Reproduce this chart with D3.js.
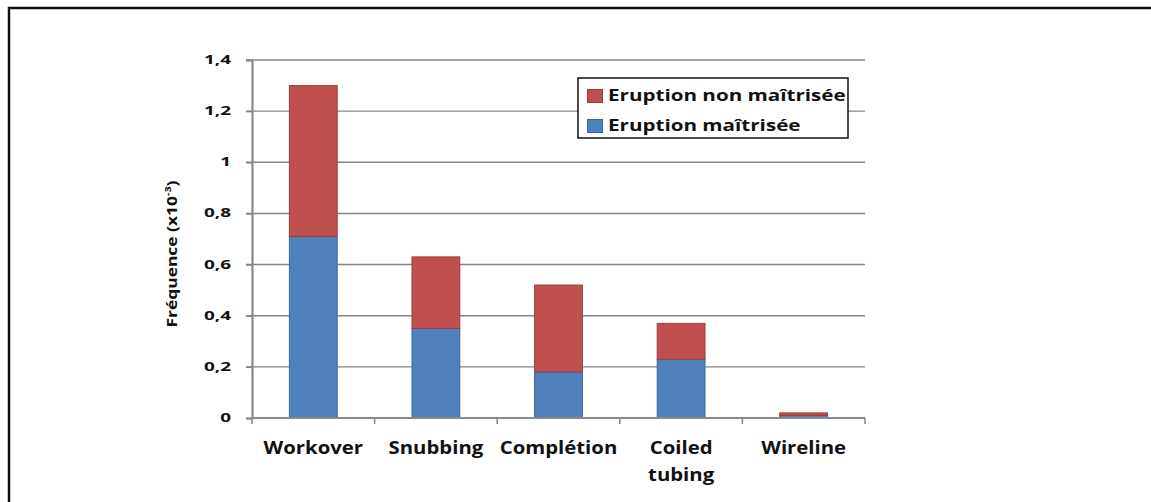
<!DOCTYPE html>
<html><head><meta charset="utf-8">
<script src="https://cdn.jsdelivr.net/npm/d3@7"></script>
<style>
body{margin:0;background:#fff;}
text{font-family:"Open Sans","DejaVu Sans",sans-serif;font-weight:bold;fill:#111;}
</style></head>
<body>
<svg id="c" width="1151" height="502"></svg>
<script>
const categories = ["Workover", "Snubbing", "Complétion", "Coiled\ntubing", "Wireline"];
const maitrisee = [0.71, 0.35, 0.18, 0.23, 0.01];
const nonMaitrisee = [0.59, 0.28, 0.34, 0.14, 0.01];
const yTicks = [0, 0.2, 0.4, 0.6, 0.8, 1, 1.2, 1.4];
const seriesNames = ["Eruption non maîtrisée", "Eruption maîtrisée"];
const colors = {fill:["#C0504D", "#4F81BD"], stroke:["#98403D", "#3A679C"]};

const svg = d3.select("#c");
// frame
svg.append("path").attr("d","M9,502 V8 H1151").attr("fill","none").attr("stroke","#111").attr("stroke-width",2.5);

const x0 = 252, x1 = 865, yb = 418, yt = 60;
const x = d3.scaleBand().domain(categories).range([x0, x1]).paddingInner(0.61).paddingOuter(0.305);
const y = d3.scaleLinear().domain([0, 1.4]).range([yb, yt]);

// stretched text helper (the reference is horizontally stretched)
function stext(parent, tx, ty, sx, size, anchor, str, rot){
  const g = parent.append("g").attr("transform", `translate(${tx},${ty})` + (rot?` rotate(${rot})`:"") + ` scale(${sx},1)`);
  return g.append("text").attr("font-size", size).attr("text-anchor", anchor).text(str);
}

// gridlines
svg.append("g").selectAll("line").data(yTicks.filter(d=>d>0)).join("line")
  .attr("x1", x0-6).attr("x2", x1).attr("y1", d=>y(d)).attr("y2", d=>y(d))
  .attr("stroke", "#858585").attr("stroke-width", 1.4);

// y axis
const ya = svg.append("g").attr("transform", `translate(${x0},0)`)
  .call(d3.axisLeft(y).tickValues(yTicks).tickSize(6).tickFormat(""));
ya.select(".domain").attr("stroke", "#8a8a8a").attr("stroke-width", 2.2);
ya.selectAll(".tick line").attr("stroke", "#858585").attr("stroke-width", 1.4);
const fmt = d => d3.format("~g")(d).replace(".", ",");
yTicks.forEach(v => stext(svg, 231, y(v)+4, 1.65, 11.5, "end", fmt(v)));

// bars
const stacks = categories.map((c,i)=>({c, b:maitrisee[i], r:nonMaitrisee[i]}));
const g = svg.append("g");
g.selectAll("rect.b").data(stacks).join("rect")
  .attr("x", d=>x(d.c)).attr("width", x.bandwidth())
  .attr("y", d=>y(d.b)).attr("height", d=>y(0)-y(d.b))
  .attr("fill", colors.fill[1]).attr("stroke", colors.stroke[1]).attr("stroke-width", 1);
g.selectAll("rect.r").data(stacks).join("rect")
  .attr("x", d=>x(d.c)).attr("width", x.bandwidth())
  .attr("y", d=>y(d.b+d.r)).attr("height", d=>y(d.b)-y(d.b+d.r))
  .attr("fill", colors.fill[0]).attr("stroke", colors.stroke[0]).attr("stroke-width", 1);

// x axis
const xa = svg.append("g").attr("transform", `translate(0,${yb})`);
xa.append("line").attr("x1", x0).attr("x2", x1).attr("stroke", "#8a8a8a").attr("stroke-width", 2.2);
const step = x.step();
xa.selectAll("line.t").data(d3.range(categories.length+1)).join("line")
  .attr("x1", i=>x0+i*step).attr("x2", i=>x0+i*step).attr("y1", 0).attr("y2", 6)
  .attr("stroke", "#858585").attr("stroke-width", 1.5);
categories.forEach(c => {
  c.split("\n").forEach((s,k) => stext(svg, x(c)+x.bandwidth()/2, 454+k*27, 1.13, 18, "middle", s));
});

// y label
const yl = stext(svg, 177, 254, 1.2, 14.5, "middle", "", -90);
yl.append("tspan").text("Fréquence (x10");
yl.append("tspan").attr("font-size", 9).attr("dy", -6).text("-3");
yl.append("tspan").attr("dy", 6).text(")");

// legend
const lg = svg.append("g").attr("transform", "translate(578,78)");
lg.append("rect").attr("width", 270).attr("height", 60).attr("fill", "#fff").attr("stroke", "#111").attr("stroke-width", 1.5);
seriesNames.forEach((n,i)=>{
  lg.append("rect").attr("x", 9.5).attr("y", 11.5+i*30).attr("width", 15).attr("height", 13)
    .attr("fill", colors.fill[i]).attr("stroke", colors.stroke[i]);
  stext(lg, 30, 23+i*29.5, 1.25, 16.5, "start", n);
});
</script>
</body></html>
